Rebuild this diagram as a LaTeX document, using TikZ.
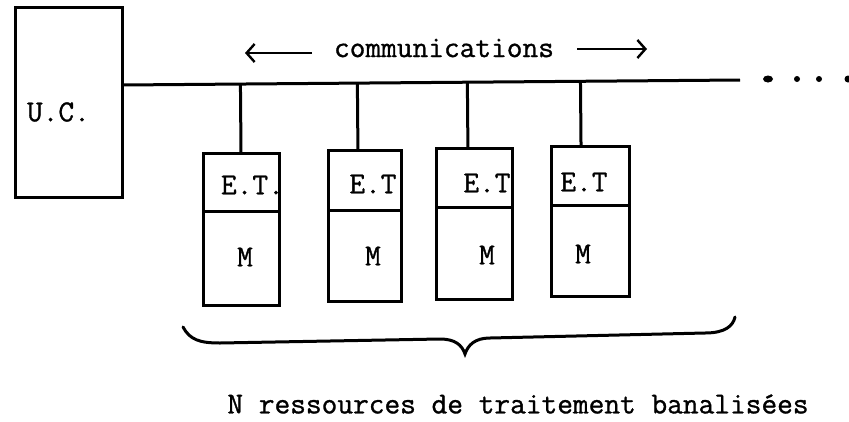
\documentclass[tikz,border=0pt]{standalone}
\usepackage{fontspec}
\newfontfamily\typewriter{Latin Modern Mono}[FakeBold=1]
\usetikzlibrary{arrows.meta,calc}
\begin{document}
\begin{tikzpicture}[x=1pt,y=-1pt,
  every node/.style={font=\typewriter\fontsize{30.5}{36}\selectfont, inner sep=0pt, outer sep=0pt},
  box/.style={draw, line width=3pt, anchor=north west},
  wire/.style={line width=3pt},
  flow/.style={line width=2.4pt, -{Straight Barb[length=8pt,width=18pt,line width=2.4pt]}},
  dotmark/.style={fill=black}]
\useasboundingbox (0,0) rectangle (849,421);

% central unit
\node[box, minimum width=107pt, minimum height=190pt] (uc) at (15,7) {};
\node[anchor=west] (uctext) at (27,112) {U.C.};

% processing resources: E.T on top of M
\node[box, minimum width=76pt, minimum height=58pt] (et1) at (203,153) {};
\node[box, minimum width=76pt, minimum height=94pt] (m1) at (et1.south west) {};
\node[box, minimum width=73pt, minimum height=60pt] (et2) at (328,150) {};
\node[box, minimum width=73pt, minimum height=91pt] (m2) at (et2.south west) {};
\node[box, minimum width=76pt, minimum height=59pt] (et3) at (436,148) {};
\node[box, minimum width=76pt, minimum height=92pt] (m3) at (et3.south west) {};
\node[box, minimum width=78pt, minimum height=59pt] (et4) at (551,146) {};
\node[box, minimum width=78pt, minimum height=91pt] (m4) at (et4.south west) {};

\node[anchor=west] (etl1) at (221,185) {E.T.};
\node (etl2) at (373,184) {E.T};
\node (etl3) at (487,183) {E.T};
\node (etl4) at (584,182) {E.T};
\node (ml1) at (245,257) {M};
\node (ml2) at (373,256) {M};
\node (ml3) at (487,255) {M};
\node (ml4) at (583,254) {M};

% communication bus
\coordinate (busL) at (uc.east |- 0,85);
\coordinate (busR) at (740,80);
\draw[wire] (busL) -- (busR);
\coordinate (tap1) at ($(et1.north west)!0.5!(et1.north east)$);
\coordinate (tap2) at ($(et2.north west)!0.41!(et2.north east)$);
\coordinate (tap3) at ($(et3.north west)!0.42!(et3.north east)$);
\coordinate (tap4) at ($(et4.north west)!0.385!(et4.north east)$);
\foreach \i in {1,...,4}
  \draw[wire] (tap\i) -- ($(busL)!(tap\i)!(busR)$);

% continuation dots
\fill[dotmark] (768,79) ellipse (5pt and 3.5pt);
\fill[dotmark] (797,79) circle (3pt);
\fill[dotmark] (819,79) circle (3pt);
\fill[dotmark] (848,79) circle (3.5pt);

% direction of communications
\node (comm) at (444,48) {communications};
\coordinate (la) at (312,53);
\coordinate (lb) at (245,53);
\coordinate (ra) at (577,49);
\coordinate (rb) at (647,49);
\draw[flow] (la) -- (lb);
\draw[flow] (ra) -- (rb);

% brace grouping the resources
\draw[line width=3pt, line cap=round]
  (183,327) .. controls (190,340) and (200,343) .. (220,343)
  -- (440,339) .. controls (455,339) and (462,345) .. (465,354)
  .. controls (468,345) and (475,338) .. (490,338)
  -- (705,333) .. controls (725,333) and (733,326) .. (735,317);

\node (caption) at (518,404) {N ressources de traitement banalisées};
\end{tikzpicture}
\end{document}
